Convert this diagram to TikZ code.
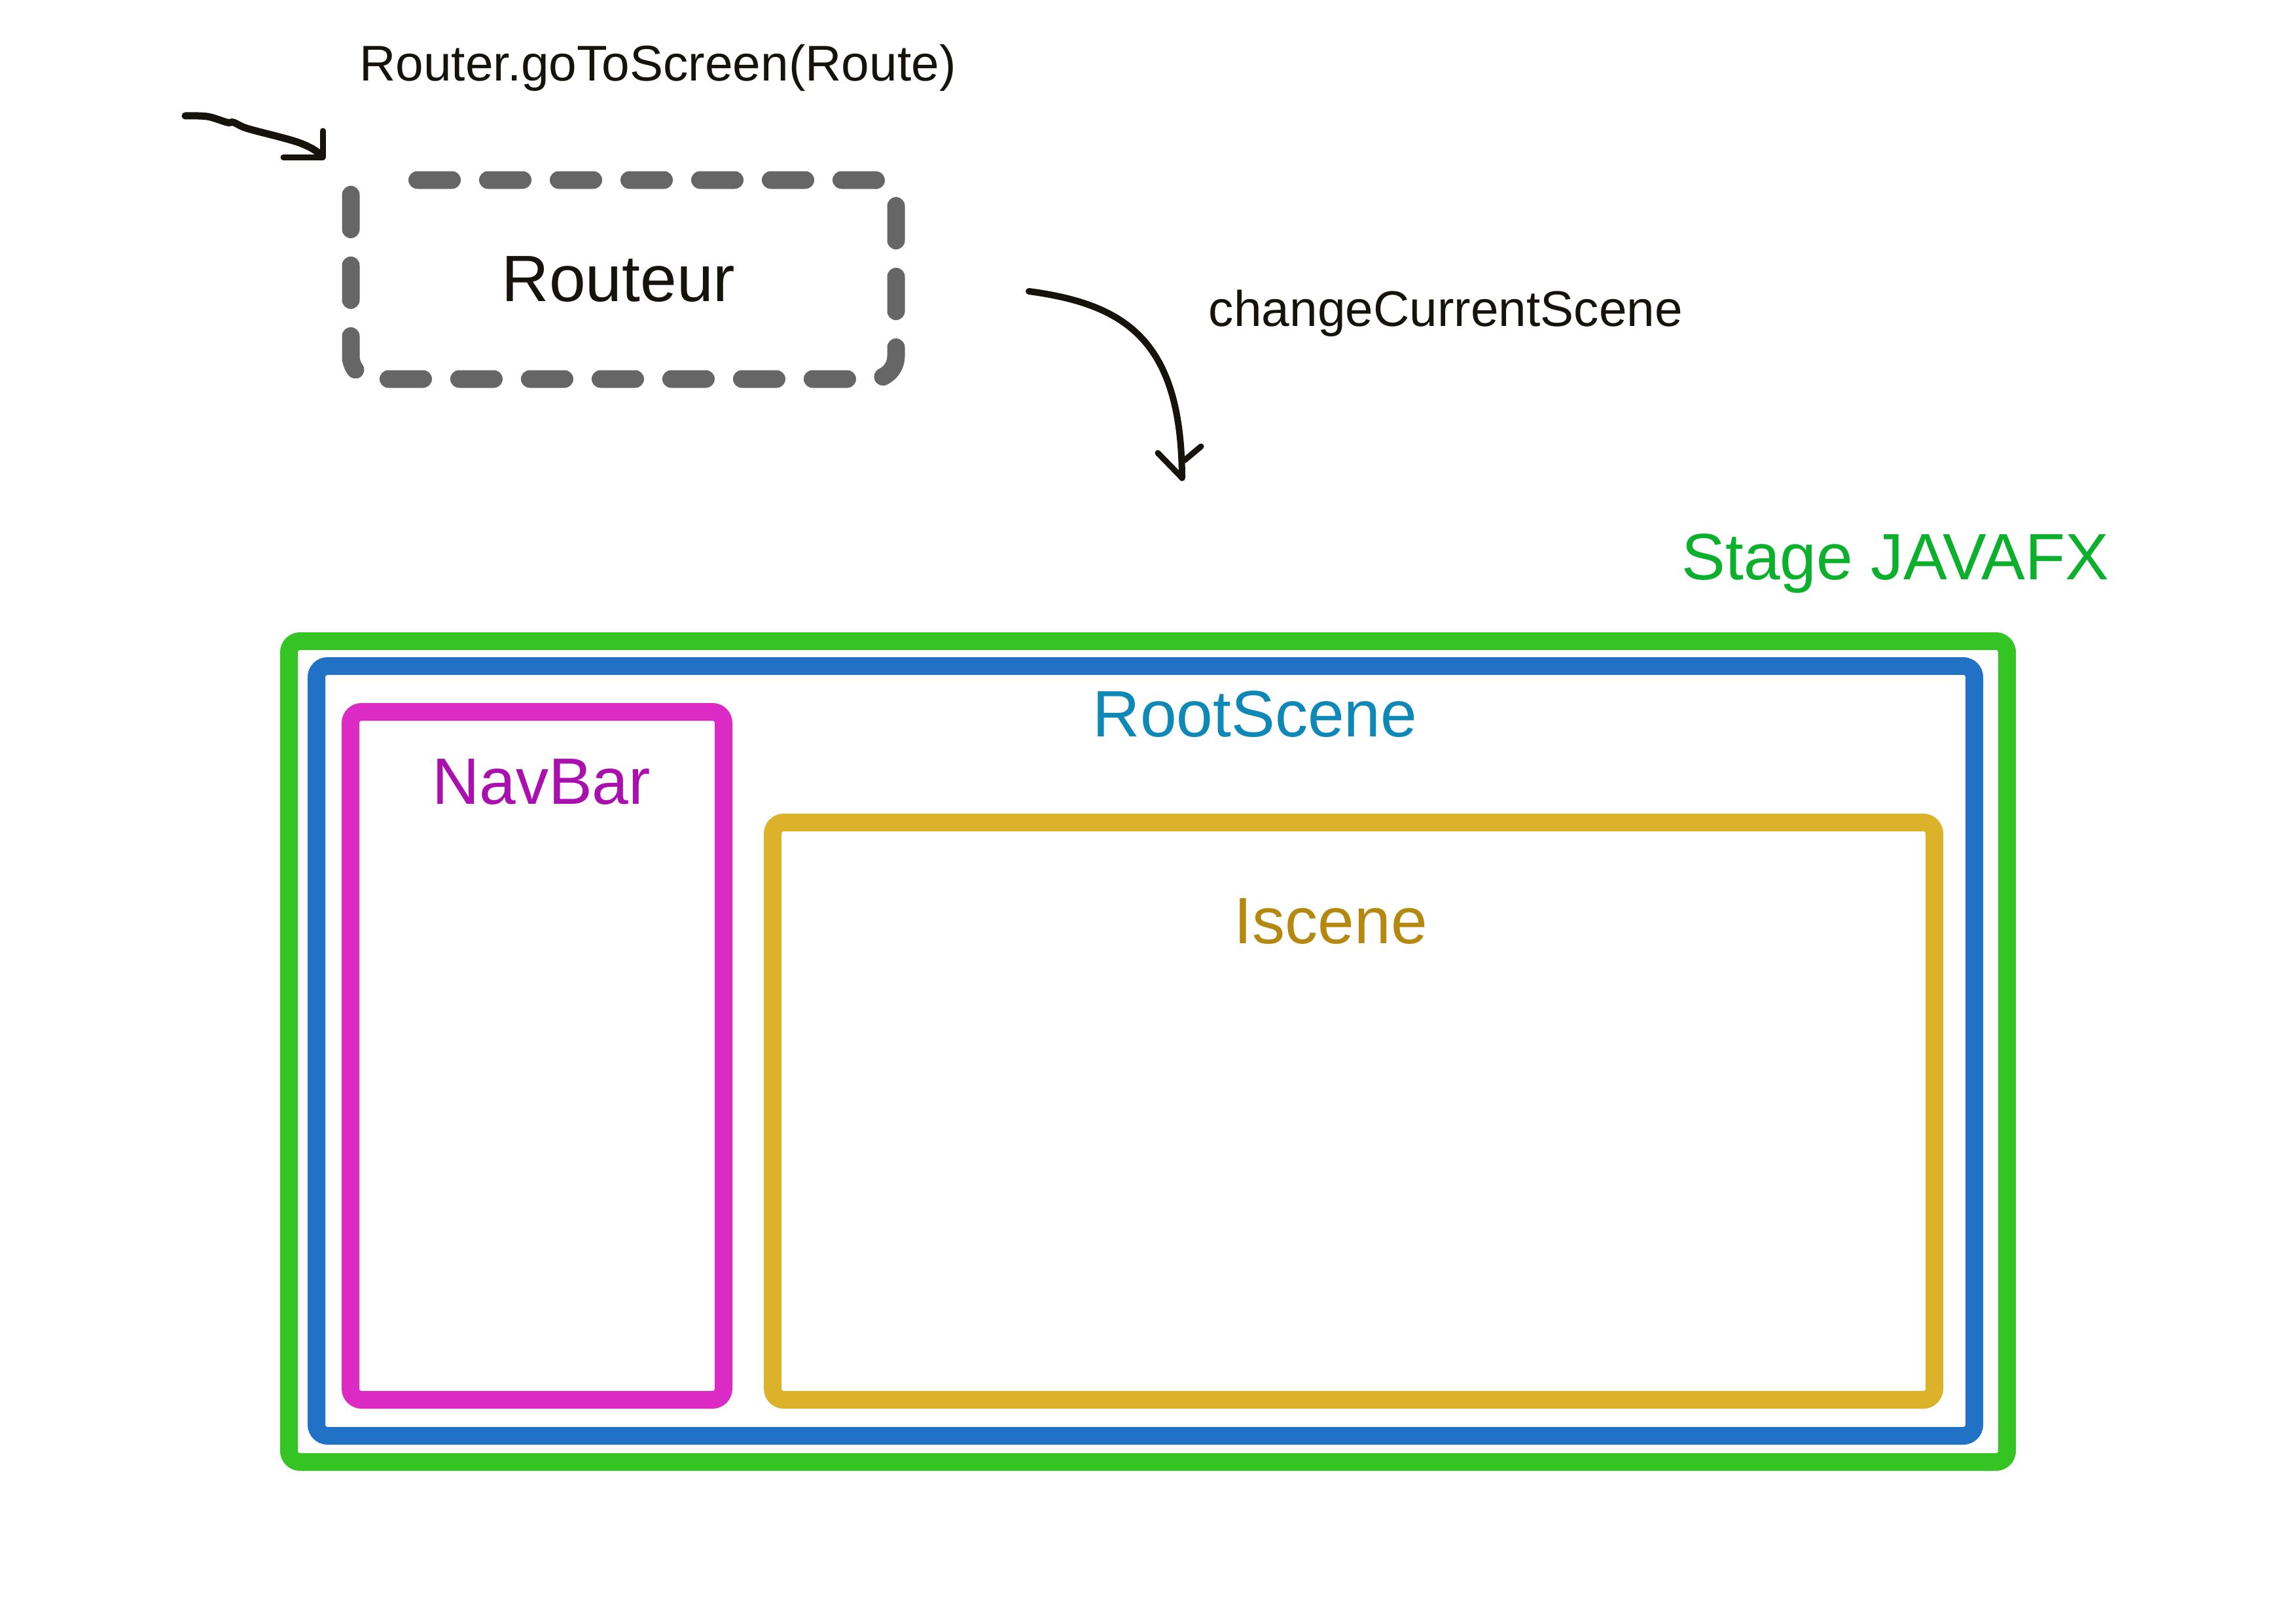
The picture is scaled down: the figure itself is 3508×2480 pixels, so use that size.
\documentclass[tikz,border=0pt]{standalone}
\usepackage{fontspec}
\setmainfont{Liberation Sans}
\usepackage{tikz}

\definecolor{stagegreen}{HTML}{34C423}
\definecolor{stagetext}{HTML}{0CB02C}
\definecolor{rootblue}{HTML}{2172C6}
\definecolor{roottext}{HTML}{0E88B6}
\definecolor{navpink}{HTML}{DC2AC4}
\definecolor{navtext}{HTML}{AA10AE}
\definecolor{scenegold}{HTML}{DBB22A}
\definecolor{scenetext}{HTML}{B5890F}
\definecolor{dashgray}{HTML}{666666}
\definecolor{ink}{HTML}{16120C}

\begin{document}
\begin{tikzpicture}[
      x=0.1mm, y=-0.1mm,
      frame/.style={rectangle, rounded corners=1.7mm, draw, line width=2.7mm,
                    inner sep=0pt},
      routerline/.style={draw=dashgray, rounded corners=3.5mm, line width=2.7mm,
                    line cap=round, dash pattern=on 5.3mm off 5.5mm},
      big/.style={inner sep=0pt, anchor=base, font=\fontsize{28.5pt}{34pt}\selectfont},
      small/.style={inner sep=0pt, anchor=base, text=ink,
                    font=\fontsize{21.8pt}{26pt}\selectfont},
      hand/.style={draw=ink, line width=1.1mm, line cap=round, line join=round}
    ]
        \useasboundingbox (0,0) rectangle (3508,2480);
        % containers
        \node[frame, draw=stagegreen, minimum width=262.5mm, minimum height=125.4mm] (stage) at (1754,1606.5) {};
        \node[frame, draw=rootblue, minimum width=253.3mm, minimum height=117.6mm] (root) at (1750,1605.5) {};
        \node[frame, draw=navpink, minimum width=57mm, minimum height=105.1mm] (navbar) at (820.5,1613) {};
        \node[frame, draw=scenegold, minimum width=177.5mm, minimum height=88.2mm] (iscene) at (2068,1697.5) {};
        \node[big, text=stagetext] (stagelbl) at (2896,885) {Stage JAVAFX};
        \node[big, text=roottext] (rootlbl) at (1917.5,1125) {RootScene};
        \node[big, text=navtext] (navlbl) at (827,1228) {NavBar};
        \node[big, text=scenetext] (scenelbl) at (2033.5,1441) {Iscene};
        % router (hand drawn, left open at the top left)
        \draw[routerline] (637.5,275) -| (1369,579) -| (536,297);
        \node[big, text=ink] (router) at (945,460) {Routeur};
        \node[small] (gotolbl) at (1005,123) {Router.goToScreen(Route)};
        \node[small] (changelbl) at (2209,498) {changeCurrentScene};
        % hand drawn arrows
        \coordinate (goin) at (283,177);
        \coordinate (goend) at (490,236);
        \coordinate (gotip) at (493,240);
        \coordinate (chin) at (1572,445);
        \coordinate (chtip) at (1806,730);
        \draw[hand] plot[smooth, tension=0.6] coordinates {(goin) (317,178) (347,187) (357,187) (377,196) (430,210) (457,218) (477,227) (goend)};
        \draw[hand, line width=0.9mm] (gotip) ++(0,-40) -- (gotip) -- ++(-60,0);
        \draw[hand, line width=1mm] (chin) .. controls (1720,465) and (1805,520) .. (chtip);
        \draw[hand, line width=0.9mm] (chtip) ++(-37,-38) -- (chtip);
        \draw[hand, line width=0.9mm] (chtip) ++(4,-27) -- ++(25,-21);
    \end{tikzpicture}
\end{document}
